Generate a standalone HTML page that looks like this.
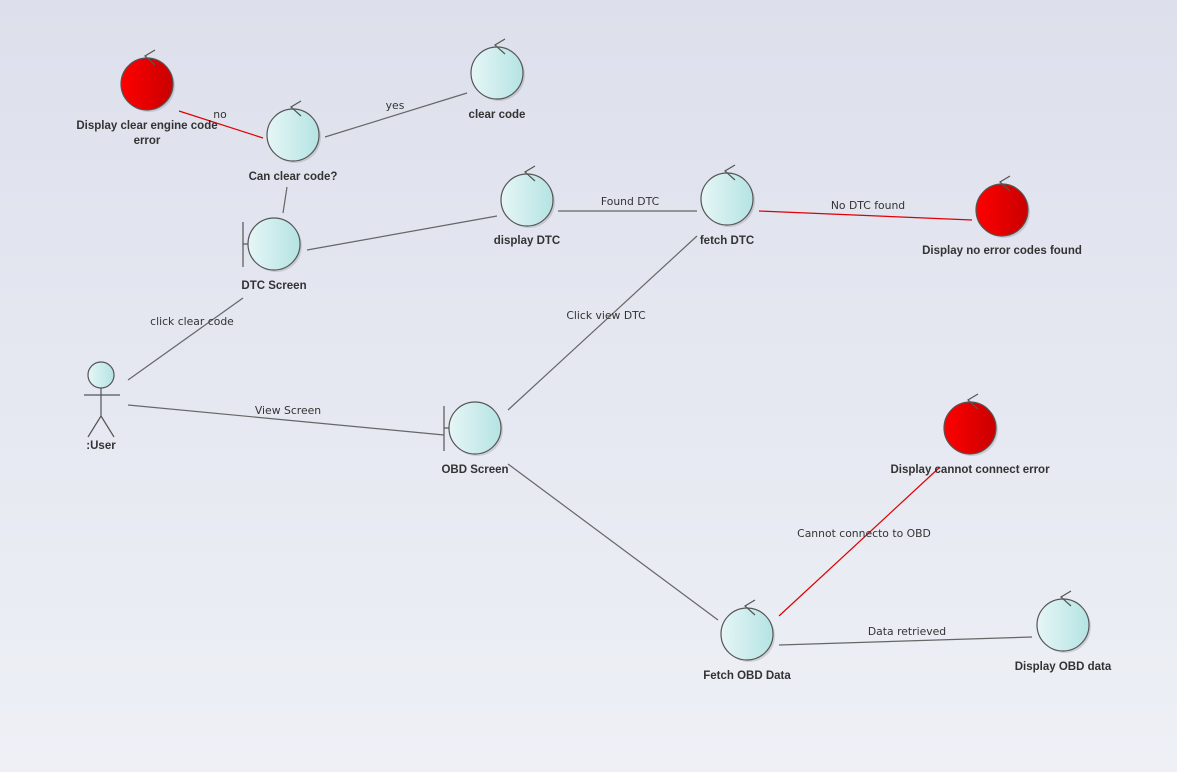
<!DOCTYPE html>
<html><head><meta charset="utf-8"><style>
html,body{margin:0;padding:0;width:1177px;height:772px;overflow:hidden}
body{background:linear-gradient(#dde0ec,#eef0f6);font-family:"Liberation Sans",sans-serif}
svg text{font-family:"DejaVu Sans","Liberation Sans",sans-serif;font-size:10.8px;fill:#333}
svg text.lbl{font-family:"Liberation Sans",sans-serif;font-weight:bold;font-size:11.5px}
</style></head><body>
<svg width="1177" height="772">
<defs>
<linearGradient id="cy" x1="0" x2="1"><stop offset="0" stop-color="#e6f6f6"/><stop offset="1" stop-color="#b5e3e3"/></linearGradient>
<linearGradient id="rd" x1="0" x2="1"><stop offset="0" stop-color="#ff0000"/><stop offset="1" stop-color="#c80000"/></linearGradient>
</defs>
<g id="edges" stroke-width="1.2"></g>
<g id="nodes"></g>
</svg>
<script>
const NS='http://www.w3.org/2000/svg';
const E=document.getElementById('edges'),N=document.getElementById('nodes');
function mk(tag,attrs,parent){const e=document.createElementNS(NS,tag);for(const k in attrs)e.setAttribute(k,attrs[k]);parent.appendChild(e);return e;}
const edges=[
 [179,111,263,138,'#e00000','no',220,118],
 [325,137,467,93,'#666','yes',395,109],
 [283,213,287,187,'#666','',0,0],
 [307,250,497,216,'#666','',0,0],
 [558,211,697,211,'#666','Found DTC',630,205],
 [759,211,972,220,'#e00000','No DTC found',868,209],
 [128,380,243,298,'#666','click clear code',192,325],
 [128,405,444,435,'#666','View Screen',288,414],
 [508,410,697,236,'#666','Click view DTC',606,319],
 [508,464,718,620,'#666','',0,0],
 [779,616,940,467,'#e00000','Cannot connecto to OBD',864,537],
 [779,645,1032,637,'#666','Data retrieved',907,635]
];
edges.forEach(e=>{
 const l=mk('line',{x1:e[0],y1:e[1],x2:e[2],y2:e[3],stroke:e[4]},E);
 
 
 if(e[5]){const t=mk('text',{x:e[6],y:e[7],'text-anchor':'middle'},E);t.textContent=e[5];
 
 }
});
const nodes=[
 ['control',147,84,true,['Display clear engine code','error'],129],
 ['control',497,73,false,['clear code'],118],
 ['control',293,135,false,['Can clear code?'],180],
 ['control',527,200,false,['display DTC'],244],
 ['control',727,199,false,['fetch DTC'],244],
 ['control',1002,210,true,['Display no error codes found'],254],
 ['boundary',274,244,false,['DTC Screen'],289],
 ['boundary',475,428,false,['OBD Screen'],473],
 ['control',970,428,true,['Display cannot connect error'],473],
 ['control',747,634,false,['Fetch OBD Data'],679],
 ['control',1063,625,false,['Display OBD data'],670]
];
nodes.forEach(n=>{
 const [type,x,y,red,lab,ly]=n;
 const g=mk('g',{},N);
 
 
 mk('circle',{cx:x+2,cy:y+2,r:26,fill:'rgba(0,0,0,0.12)'},g);
 mk('circle',{cx:x,cy:y,r:26,fill:red?'url(#rd)':'url(#cy)',stroke:'#555','stroke-width':1.2},g);
 if(type==='control')mk('path',{d:`M${x+8} ${y-34} L${x-2} ${y-28} L${x+8} ${y-19}`,fill:'none',stroke:'#555','stroke-width':1.2},g);
 else{mk('line',{x1:x-31,y1:y-22,x2:x-31,y2:y+23,stroke:'#555','stroke-width':1.2},g);
      mk('line',{x1:x-31,y1:y,x2:x-26,y2:y,stroke:'#555','stroke-width':1.2},g);}
 lab.forEach((s,i)=>{const t=mk('text',{x:x,y:ly+i*15,'text-anchor':'middle',class:'lbl'},g);t.textContent=s;});
});
const a=mk('g',{stroke:'#555','stroke-width':1.2,fill:'none'},N);


mk('circle',{cx:101,cy:375,r:13,fill:'url(#cy)'},a);
mk('path',{d:'M101 388 V416 M84 395 H120 M101 416 L88 437 M101 416 L114 437'},a);
const ut=mk('text',{x:101,y:449,'text-anchor':'middle',class:'lbl',stroke:'none'},a);ut.textContent=':User';
</script>
</body></html>
